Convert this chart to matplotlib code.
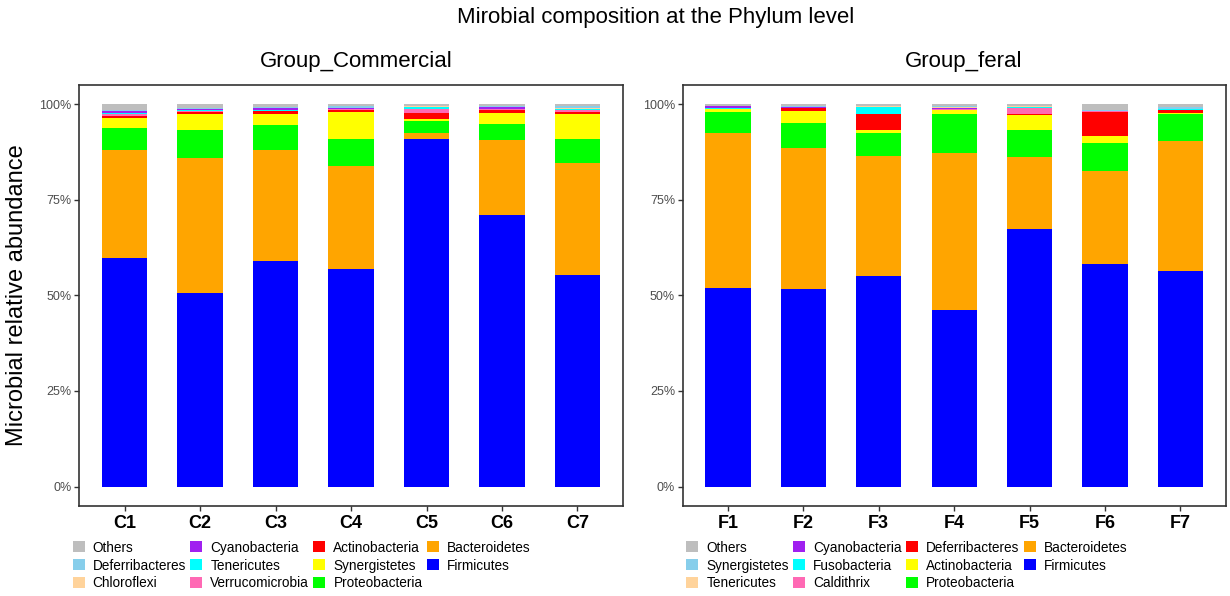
import numpy as np
import matplotlib
matplotlib.use("Agg")
import matplotlib.pyplot as plt
from matplotlib.patches import Patch

plt.rcParams['font.family'] = ['Liberation Sans', 'DejaVu Sans']

# stack colours, bottom -> top
COLORS = ['#0000FF', '#FFA500', '#00FF00', '#FFFF00', '#FF0000', '#FF69B4',
          '#00FFFF', '#A020F0', '#FFD39B', '#87CEEB', '#BEBEBE']

# ---- Group_Commercial (percent) ----
c_samples = ['C1', 'C2', 'C3', 'C4', 'C5', 'C6', 'C7']
c_phyla = ['Firmicutes', 'Bacteroidetes', 'Proteobacteria', 'Synergistetes',
           'Actinobacteria', 'Verrucomicrobia', 'Tenericutes', 'Cyanobacteria',
           'Chloroflexi', 'Deferribacteres', 'Others']
c_firmicutes      = [59.7, 50.7, 58.9, 56.8, 90.9, 70.9, 55.3]
c_bacteroidetes   = [28.2, 35.1, 29.0, 27.1, 1.5, 19.6, 29.4]
c_proteobacteria  = [5.8, 7.4, 6.6, 7.0, 3.2, 4.3, 6.1]
c_synergistetes   = [2.7, 4.1, 3.0, 7.1, 0.6, 3.0, 6.5]
c_actinobacteria  = [0.6, 0.6, 0.6, 0.5, 1.5, 0.6, 0.7]
c_verrucomicrobia = [0.3, 0.3, 0.2, 0.1, 1.1, 0.2, 0.4]
c_tenericutes     = [0.4, 0.3, 0.1, 0.1, 0.4, 0.1, 0.2]
c_cyanobacteria   = [0.4, 0.2, 0.6, 0.2, 0.1, 0.5, 0.2]
c_chloroflexi     = [0.1, 0.1, 0.1, 0.2, 0.1, 0.0, 0.2]
c_deferribacteres = [0.2, 0.3, 0.2, 0.3, 0.2, 0.2, 0.4]
c_others          = [1.6, 0.9, 0.7, 0.6, 0.4, 0.6, 0.6]

# ---- Group_feral (percent) ----
f_samples = ['F1', 'F2', 'F3', 'F4', 'F5', 'F6', 'F7']
f_phyla = ['Firmicutes', 'Bacteroidetes', 'Proteobacteria', 'Actinobacteria',
           'Deferribacteres', 'Caldithrix', 'Fusobacteria', 'Cyanobacteria',
           'Tenericutes', 'Synergistetes', 'Others']
f_firmicutes      = [52.0, 51.6, 55.1, 46.1, 67.4, 58.1, 56.3]
f_bacteroidetes   = [40.4, 36.9, 31.3, 41.1, 18.8, 24.3, 34.1]
f_proteobacteria  = [5.6, 6.6, 6.0, 10.1, 7.1, 7.4, 6.9]
f_actinobacteria  = [0.6, 3.2, 0.8, 1.1, 3.8, 1.8, 0.4]
f_deferribacteres = [0.1, 0.6, 4.3, 0.1, 0.3, 6.3, 0.7]
f_caldithrix      = [0.1, 0.2, 0.0, 0.1, 1.7, 0.3, 0.1]
f_fusobacteria    = [0.1, 0.0, 1.7, 0.1, 0.1, 0.0, 0.1]
f_cyanobacteria   = [0.5, 0.1, 0.1, 0.4, 0.1, 0.1, 0.1]
f_tenericutes     = [0.1, 0.1, 0.1, 0.1, 0.2, 0.0, 0.1]
f_synergistetes   = [0.1, 0.1, 0.1, 0.2, 0.0, 0.2, 0.4]
f_others          = [0.4, 0.6, 0.5, 0.6, 0.5, 1.5, 0.8]

c_table = [c_firmicutes, c_bacteroidetes, c_proteobacteria, c_synergistetes,
           c_actinobacteria, c_verrucomicrobia, c_tenericutes, c_cyanobacteria,
           c_chloroflexi, c_deferribacteres, c_others]
f_table = [f_firmicutes, f_bacteroidetes, f_proteobacteria, f_actinobacteria,
           f_deferribacteres, f_caldithrix, f_fusobacteria, f_cyanobacteria,
           f_tenericutes, f_synergistetes, f_others]


def stacked(ax, samples, table, title, title_x):
    x = np.arange(1, len(samples) + 1)
    bottom = np.zeros(len(samples))
    for vals, col in zip(table, COLORS):
        vals = np.array(vals, dtype=float)
        ax.bar(x, vals, width=0.6, bottom=bottom, color=col,
               edgecolor='none', linewidth=0)
        bottom += vals
    ax.set_xlim(0.4, len(samples) + 0.6)
    ax.set_ylim(-5, 105)
    ax.set_yticks([0, 25, 50, 75, 100])
    ax.set_yticklabels(['0%', '25%', '50%', '75%', '100%'])
    ax.set_xticks(x)
    ax.set_xticklabels(samples, fontweight='bold')
    ax.tick_params(axis='y', labelsize=9, labelcolor='#4d4d4d',
                   color='#333333', length=3.5, width=1.0, pad=2)
    ax.tick_params(axis='x', labelsize=13, labelcolor='black',
                   color='#333333', length=3.5, width=1.0, pad=3)
    for s in ax.spines.values():
        s.set_color('#333333')
        s.set_linewidth(1.2)
    ax.set_title(title, fontsize=16, pad=13, x=title_x)


def legend_below(fig, phyla, x0):
    handles = [Patch(facecolor=c, edgecolor='none') for c in COLORS[::-1]]
    labels = phyla[::-1]
    fig.legend(handles, labels, ncol=4, loc='upper left',
               bbox_to_anchor=(x0, 0.093), frameon=False, fontsize=9.8,
               handlelength=0.88, handleheight=0.88, handletextpad=0.6,
               columnspacing=0.3, labelspacing=0.29, borderpad=0,
               borderaxespad=0)


fig = plt.figure(figsize=(12.3, 5.96), dpi=100)
ax1 = fig.add_axes([0.0645, 0.1515, 0.4418, 0.7059])
ax2 = fig.add_axes([0.555, 0.1515, 0.4415, 0.7059])

stacked(ax1, c_samples, c_table, 'Group_Commercial', 0.509)
stacked(ax2, f_samples, f_table, 'Group_feral', 0.517)

ax1.set_ylabel('Microbial relative abundance', fontsize=17, labelpad=8)

legend_below(fig, c_phyla, 0.059)
legend_below(fig, f_phyla, 0.558)

fig.suptitle('Mirobial composition at the Phylum level', fontsize=16,
             x=0.533, y=0.988)

fig.savefig('out.png', dpi=100)
